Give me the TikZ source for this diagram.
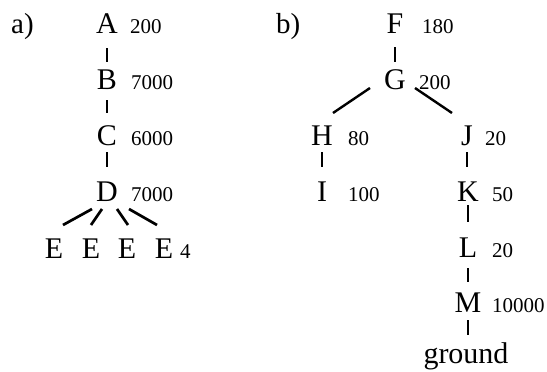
\documentclass[tikz,border=0pt]{standalone}
\usepackage{fontspec}
\setmainfont{Liberation Serif}
\begin{document}
\begin{tikzpicture}[x=1pt,y=-1pt,
  lt/.style={font=\fontsize{30}{32}\selectfont, inner sep=0pt, text height=18pt, text depth=0pt, anchor=center},
  lbl/.style={font=\fontsize{29}{31}\selectfont, inner sep=0pt, anchor=base west},
  num/.style={font=\fontsize{21}{23}\selectfont, inner sep=0pt, anchor=base west},
  vl/.style={line width=1.7pt},
  dl/.style={line width=2.7pt},
  dlb/.style={line width=2.4pt}]
\useasboundingbox (0,0) rectangle (547,372);
% ---------- a) ----------
\node[lbl] (la) at (11,33) {a)};
\node[lt] (A) at (107,24) {A};   \node[num] (nA) at (130,33) {200};
\node[lt] (B) at (107,80) {B};   \node[num] (nB) at (131,89) {7000};
\node[lt] (C) at (107,136) {C};  \node[num] (nC) at (131,145) {6000};
\node[lt] (D) at (107,192) {D};  \node[num] (nD) at (131,201) {7000};
\node[lt] (E1) at (54,249) {E};
\node[lt] (E2) at (91,249) {E};
\node[lt] (E3) at (127,249) {E};
\node[lt] (E4) at (164,249) {E};
\node[num] (nE) at (180,258) {4};
\draw[vl, shorten <=24pt, shorten >=18pt] (A.center) -- (A.center |- B.center);
\draw[vl, shorten <=20pt, shorten >=23pt] (B.center) -- (B.center |- C.center);
\draw[vl, shorten <=16pt, shorten >=25pt] (C.center) -- (C.center |- D.center);
\draw[dl] ([shift={(-15,17)}]D.center) -- ([shift={(9,-24)}]E1.center);
\draw[dl] ([shift={(-5,17)}]D.center) -- ([shift={(0,-24)}]E2.center);
\draw[dl] ([shift={(10,17)}]D.center) -- ([shift={(1,-24)}]E3.center);
\draw[dl] ([shift={(22,17)}]D.center) -- ([shift={(-7,-24)}]E4.center);
% ---------- b) ----------
\node[lbl] (lb) at (276,33) {b)};
\node[lt] (F) at (395,24) {F};   \node[num] (nF) at (422,33) {180};
\node[lt] (G) at (395,80) {G};   \node[num] (nG) at (419,89) {200};
\node[lt] (H) at (322,136) {H};  \node[num] (nH) at (348,145) {80};
\node[lt] (J) at (467,136) {J};  \node[num] (nJ) at (485,145) {20};
\node[lt] (I) at (322,192) {I};  \node[num] (nI) at (348,201) {100};
\node[lt] (K) at (468,192) {K};  \node[num] (nK) at (492,201) {50};
\node[lt] (L) at (468,248) {L};  \node[num] (nL) at (492,257) {20};
\node[lt] (M) at (468,303) {M};  \node[num] (nM) at (492,312) {10000};
\node[font=\fontsize{30}{32}\selectfont, inner sep=0pt, anchor=base] (gnd) at (466,363) {ground};
\draw[vl, shorten <=23pt, shorten >=18pt] (F.center) -- (F.center |- G.center);
\draw[dlb] ([shift={(-25,8)}]G.center) -- ([shift={(11,-23)}]H.center);
\draw[dlb] ([shift={(20,8)}]G.center) -- ([shift={(-15,-23)}]J.center);
\draw[vl, shorten <=16pt, shorten >=25pt] (H.center) -- (H.center |- I.center);
\draw[vl, shorten <=16pt, shorten >=25pt] (J.center) -- (J.center |- K.center);
\draw[vl, shorten <=13pt, shorten >=26pt] (K.center) -- (K.center |- L.center);
\draw[vl, shorten <=20pt, shorten >=21pt] (L.center) -- (L.center |- M.center);
\draw[vl, shorten <=17pt, shorten >=7pt] (M.center) -- (M.center |- gnd.north);
\end{tikzpicture}
\end{document}
